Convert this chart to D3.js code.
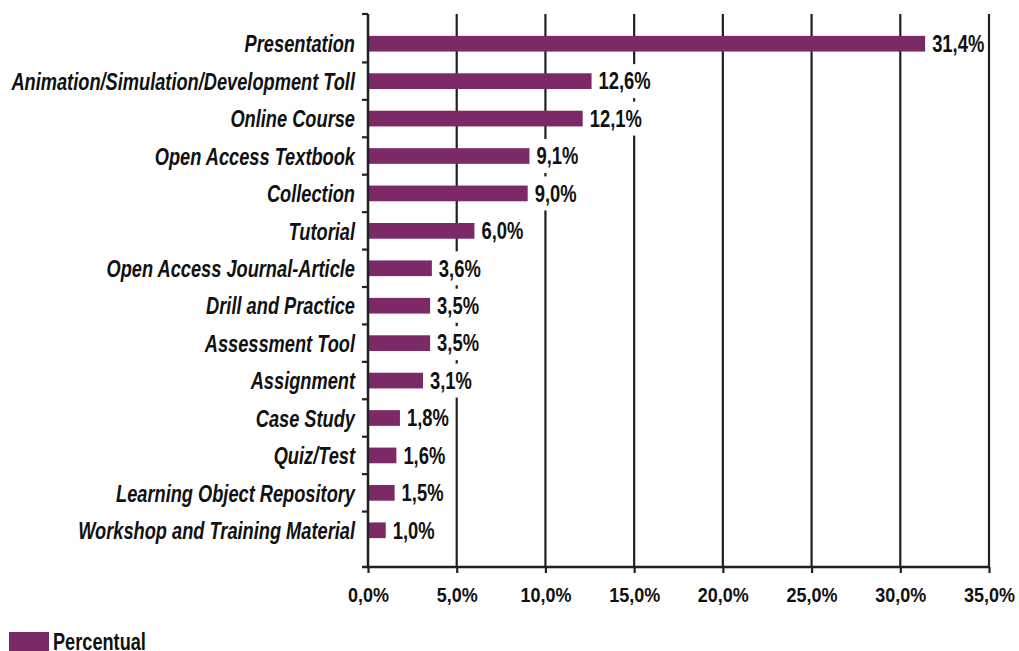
<!DOCTYPE html>
<html>
<head>
<meta charset="utf-8">
<script src="https://cdn.jsdelivr.net/npm/d3@7/dist/d3.min.js"></script>
<style>
  html, body { margin: 0; padding: 0; background: #fff; }
  svg { display: block; }
  text { font-family: "Liberation Sans", Arial, sans-serif; font-weight: bold; fill: #111; }
</style>
</head>
<body>
<svg id="chart" width="1019" height="651"></svg>
<script>
// Resource types and their share of the total
const categories = [
  "Presentation",
  "Animation/Simulation/Development Toll",
  "Online Course",
  "Open Access Textbook",
  "Collection",
  "Tutorial",
  "Open Access Journal-Article",
  "Drill and Practice",
  "Assessment Tool",
  "Assignment",
  "Case Study",
  "Quiz/Test",
  "Learning Object Repository",
  "Workshop and Training Material"
];
const values = [31.4, 12.6, 12.1, 9.1, 9.0, 6.0, 3.6, 3.5, 3.5, 3.1, 1.8, 1.6, 1.5, 1.0];
const xTicks = [0, 5, 10, 15, 20, 25, 30, 35];
const seriesName = "Percentual";

const fmt = v => v.toFixed(1).replace(".", ",") + "%";

// condensed look: squeeze glyphs horizontally
const squeeze = (sx) => (sel) => sel.attr("transform", function () {
  const px = +this.getAttribute("x") || 0;
  const py = +this.getAttribute("y") || 0;
  this.setAttribute("x", 0);
  this.setAttribute("y", 0);
  return `translate(${px},${py}) scale(${sx},1)`;
});

const svg = d3.select("#chart");
const barColor = "#7c2a67";
const axisColor = "#231f20";

const plotTop = 14, plotBottom = 567;
const x = d3.scaleLinear().domain([0, 35]).range([368, 989]);
const y = d3.scaleBand().domain(categories).range([25, 549]).paddingInner(0.58).paddingOuter(0.29);

// vertical gridlines
svg.append("g").selectAll("line").data(xTicks.slice(1)).join("line")
  .attr("x1", d => x(d)).attr("x2", d => x(d))
  .attr("y1", plotTop).attr("y2", plotBottom)
  .attr("stroke", axisColor).attr("stroke-width", 2.2);

// bars
svg.append("g").selectAll("rect").data(categories).join("rect")
  .attr("x", x(0))
  .attr("y", d => y(d))
  .attr("width", (d, i) => x(values[i]) - x(0))
  .attr("height", y.bandwidth())
  .attr("fill", barColor);

// value labels on white plates
const valSx = 0.8;
const labelG = svg.append("g");
const plates = labelG.append("g");
const valTexts = labelG.append("g").selectAll("text").data(categories).join("text")
  .attr("x", (d, i) => x(values[i]) + 7)
  .attr("y", d => y(d) + y.bandwidth() / 2)
  .attr("dy", "0.36em")
  .attr("font-size", 23)
  .text((d, i) => fmt(values[i]))
  .call(squeeze(valSx));
valTexts.each(function (d, i) {
  const w = this.getComputedTextLength() * valSx;
  plates.append("rect")
    .attr("x", x(values[i]) + 4)
    .attr("y", y(d) + y.bandwidth() / 2 - 17)
    .attr("width", w + 3)
    .attr("height", 34)
    .attr("fill", "#fff");
});

// category axis: line plus separators between bands
const yAxis = svg.append("g");
yAxis.append("line")
  .attr("x1", x(0)).attr("x2", x(0))
  .attr("y1", plotTop).attr("y2", plotBottom)
  .attr("stroke", axisColor).attr("stroke-width", 2.5);
const step = y.step();
const sepY = [plotTop].concat(categories.slice(1).map(c => y(c) - (step - y.bandwidth()) / 2));
yAxis.selectAll("line.sep").data(sepY).join("line").attr("class", "sep")
  .attr("x1", x(0) - 6).attr("x2", x(0))
  .attr("y1", d => d).attr("y2", d => d)
  .attr("stroke", axisColor).attr("stroke-width", 2.2);
yAxis.selectAll("text").data(categories).join("text")
  .attr("x", 355)
  .attr("y", d => y(d) + y.bandwidth() / 2)
  .attr("dy", "0.36em")
  .attr("text-anchor", "end")
  .attr("font-style", "italic")
  .attr("font-size", 24)
  .text(d => d)
  .call(squeeze(0.76));

// value axis
const xAxis = svg.append("g").attr("transform", `translate(0,${plotBottom})`)
  .call(d3.axisBottom(x).tickValues(xTicks).tickSize(6).tickSizeOuter(0).tickPadding(15).tickFormat(fmt));
xAxis.select(".domain").attr("stroke", axisColor).attr("stroke-width", 2.5)
  .attr("d", `M${x(0) - 6},0H${x(35)}`);
xAxis.selectAll(".tick line").attr("stroke", axisColor).attr("stroke-width", 2.2);
xAxis.attr("font-family", null).attr("font-size", null);
xAxis.selectAll(".tick text").attr("font-size", 20).attr("fill", "#111")
  .call(squeeze(0.9));

// legend
const legend = svg.append("g").attr("transform", "translate(9,632)");
legend.append("rect").attr("width", 40).attr("height", 19).attr("fill", barColor);
legend.append("text").attr("x", 44).attr("y", 18).attr("font-size", 23).text(seriesName)
  .call(squeeze(0.79));
</script>
</body>
</html>
